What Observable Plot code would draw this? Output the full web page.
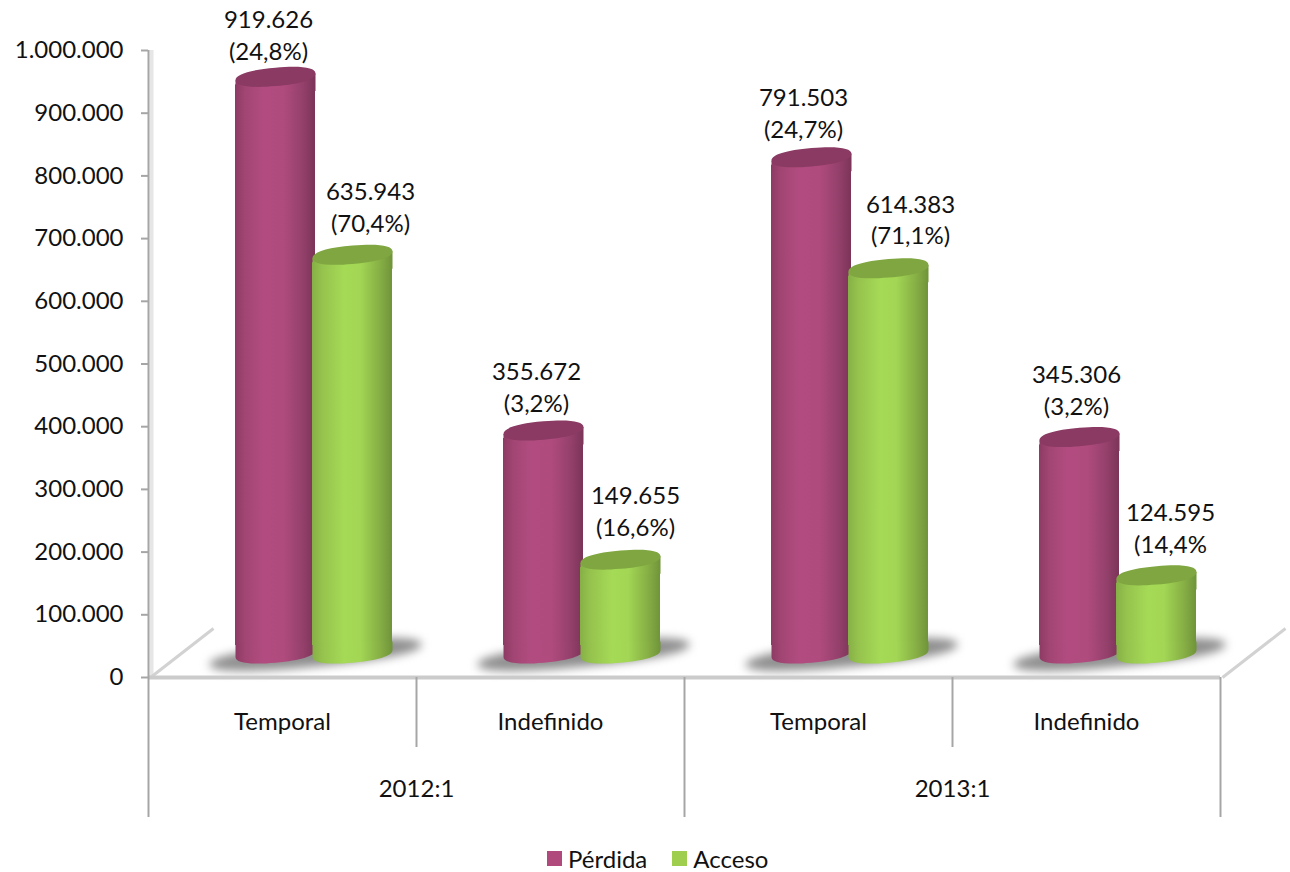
<!DOCTYPE html>
<html lang="es">
<head>
<meta charset="utf-8">
<script src="https://cdn.jsdelivr.net/npm/d3@7"></script>
<script src="https://cdn.jsdelivr.net/npm/@observablehq/plot@0.6"></script>
<style>
  html, body { margin: 0; padding: 0; background: #fff; overflow: hidden; }
  #legend { display: flex; justify-content: flex-start; align-items: center; height: 27px;
            font: 24px Lato, sans-serif; color: #111; padding-left: 547px; }
  #legend span.sw { width: 15px; height: 15px; display: inline-block; margin-right: 6px; }
  #legend span.lb { margin-right: 25px; }
  #legend span.lb:last-child { margin-right: 0; }
</style>
</head>
<body>
<div id="chart"></div>
<div id="legend"></div>
<script>
const periods = ["2012:1", "2012:1", "2013:1", "2013:1"];
const contracts = ["Temporal", "Indefinido", "Temporal", "Indefinido"];
const perdida = [919626, 355672, 791503, 345306];
const acceso = [635943, 149655, 614383, 124595];
const perdidaShare = ["(24,8%)", "(3,2%)", "(24,7%)", "(3,2%)"];
const accesoShare = ["(70,4%)", "(16,6%)", "(71,1%)", "(14,4%"];
const yTicks = [0, 100000, 200000, 300000, 400000, 500000, 600000, 700000, 800000, 900000, 1000000];
const seriesNames = ["Pérdida", "Acceso"];
const seriesColors = ["#b04a7d", "#9fce4f"];

// Hand placement of the value labels (pixels from the band centre / bar top).
const perdidaNudgeX = [-14, -14, -15, -10];
const perdidaNudgeY = [-67, -69, -69, -72];
const accesoNudgeX = [88, 85, 92, 84];
const accesoNudgeY = [-73, -74, -74, -73];

const es = d3.formatLocale({decimal: ",", thousands: ".", grouping: [3], currency: ["", "€"]});
const fmt = es.format(",d");

const keys = periods.map((p, i) => p + " " + contracts[i]);
const FONT = 24;
const BAND = 268, HALF = BAND / 2, RX = 40, RY = 9.2, SHEAR = 0.085, LIFT = -24;
const DROP = 111643, DROP_LONG = 223286; // category-axis separators, in y units below zero

// Sheared ellipses, drawn as custom Plot symbols
function ellipseSegs(ctx, rx, ry, sh, from) {
  const k = 0.64, P = (x, y) => [x, y - sh * x];
  const segs = [
    [[rx, k * ry], [k * rx, ry], [0, ry]],
    [[-k * rx, ry], [-rx, k * ry], [-rx, 0]],
    [[-rx, -k * ry], [-k * rx, -ry], [0, -ry]],
    [[k * rx, -ry], [rx, -k * ry], [rx, 0]]
  ];
  for (let i = from[0]; i < from[1]; ++i) {
    const [a, b, c] = segs[i].map(p => P(p[0], p[1]));
    ctx.bezierCurveTo(a[0], a[1], b[0], b[1], c[0], c[1]);
  }
}
const ellipseSymbol = (rx, ry, sh) => ({
  draw(ctx) {
    ctx.moveTo(rx, -sh * rx);
    ellipseSegs(ctx, rx, ry, sh, [0, 4]);
    ctx.closePath();
  }
});
const bottomSymbol = {
  draw(ctx) {
    ctx.moveTo(-RX, -12);
    ctx.lineTo(RX, -12);
    ctx.lineTo(RX, -SHEAR * RX);
    ellipseSegs(ctx, RX, RY, SHEAR, [0, 2]);
    ctx.closePath();
  }
};
const sleeveSymbol = {
  draw(ctx) {
    ctx.moveTo(-RX, SHEAR * RX);
    ctx.lineTo(RX, -SHEAR * RX);
    ctx.lineTo(RX, 14);
    ctx.lineTo(-RX, 14);
    ctx.closePath();
  }
};
const slantSymbol = {
  draw(ctx) {
    ctx.moveTo(0, 0);
    ctx.lineTo(63, -49);
  }
};

const defs = () => {
  const d = d3.create("svg:defs");
  const grad = (id, stops) => {
    const g = d.append("linearGradient").attr("id", id);
    stops.forEach(([o, c]) => g.append("stop").attr("offset", o).attr("stop-color", c));
  };
  grad("gP", [[0, "#8c3b64"], [0.12, "#a14573"], [0.35, "#b24c80"], [0.6, "#b04b7e"], [0.85, "#93406b"], [1, "#7b3458"]]);
  grad("gA", [[0, "#86b046"], [0.12, "#95c24d"], [0.4, "#a5da56"], [0.6, "#a2d654"], [0.85, "#86ae45"], [1, "#6f9439"]]);
  return d.node();
};

function cylinder(values, dx, gradId, capColor) {
  const rows = keys.map((k, i) => ({key: k, value: values[i]}));
  const left = HALF + dx - RX, right = HALF - dx - RX;
  return [
    Plot.barY(rows, {x: "key", y1: 0, y2: "value", dy: LIFT, insetLeft: left, insetRight: right,
      insetTop: 8, insetBottom: 8, fill: gradId}),
    Plot.dot(rows, {x: "key", y: 0, dx, dy: LIFT, symbol: bottomSymbol, fill: gradId}),
    Plot.dot(rows, {x: "key", y: "value", dx, dy: LIFT, symbol: sleeveSymbol, fill: gradId}),
    Plot.dot(rows, {x: "key", y: "value", dx, dy: LIFT, symbol: ellipseSymbol(RX, RY, SHEAR), fill: capColor})
  ];
}

function valueLabels(values, shares, nudgeX, nudgeY) {
  return keys.map((k, i) => Plot.text([{key: k, value: values[i], label: fmt(values[i]) + "\n" + shares[i]}], {
    x: "key", y: "value", text: "label", dx: nudgeX[i], dy: nudgeY[i],
    fontSize: FONT, lineHeight: 1.33, fill: "#111"
  }));
}

const yearKeys = keys.filter((k, i) => i % 2 === 1);
const yearLabels = periods.filter((p, i) => i % 2 === 1);
const yearRows = yearKeys.map((k, i) => ({key: k, label: yearLabels[i]}));
const contractRows = keys.map((k, i) => ({key: k, label: contracts[i]}));

const AXIS = "#a6a6a6";
const chart = Plot.plot({
  width: 1290,
  height: 845,
  marginTop: 50,
  marginBottom: 168,
  marginLeft: 148,
  marginRight: 70,
  style: {fontFamily: "Lato, sans-serif", background: "#fff"},
  x: {type: "band", domain: keys, padding: 0, axis: null},
  y: {domain: [0, 1000000], axis: null},
  marks: [
    defs,
    // wall and floor
    Plot.ruleX([keys[0]], {x: d => d, dx: -HALF + 3, y1: 0, y2: 1000000, stroke: "#e6e6e6", strokeWidth: 4}),
    Plot.dot([keys[0]], {x: d => d, y: 0, dx: -HALF + 2, symbol: slantSymbol, stroke: "#d2d2d2", strokeWidth: 3, fill: "none"}),
    Plot.dot([keys[3]], {x: d => d, y: 0, dx: HALF + 2, symbol: slantSymbol, stroke: "#d2d2d2", strokeWidth: 3, fill: "none"}),
    // shadows
    Plot.dot(keys, {x: d => d, y: 0, dx: 33, dy: -23, symbol: ellipseSymbol(106, 12, 0.095), fill: "#8f8f8f", imageFilter: "blur(5px)"}),
    // cylinders
    ...cylinder(perdida, -7, "url(#gP)", "#8a3a63"),
    ...cylinder(acceso, 70, "url(#gA)", "#7fa640"),
    // floor edge
    Plot.ruleY([0], {stroke: "#cbcbcb", strokeWidth: 4}),
    // category axis separators
    Plot.ruleX([keys[1], keys[3]], {x: d => d, dx: -HALF, y1: 0, y2: -DROP, stroke: AXIS, strokeWidth: 2}),
    Plot.ruleX([keys[0], keys[2]], {x: d => d, dx: -HALF, y1: 0, y2: -DROP_LONG, stroke: AXIS, strokeWidth: 2}),
    Plot.ruleX([keys[3]], {x: d => d, dx: HALF, y1: 0, y2: -DROP_LONG, stroke: AXIS, strokeWidth: 2}),
    Plot.text(contractRows, {x: "key", y: 0, dy: 45, text: "label", fontSize: FONT, fill: "#111"}),
    Plot.text(yearRows, {x: "key", y: 0, dy: 112, dx: -HALF, text: "label", fontSize: FONT, fill: "#111"}),
    // value axis
    Plot.axisY({ticks: yTicks, tickSize: 7, tickPadding: 18, tickFormat: fmt, stroke: AXIS, strokeWidth: 2, fill: "#111", fontSize: FONT, label: null}),
    Plot.ruleX([keys[0]], {x: d => d, dx: -HALF, y1: 0, y2: 1000000, stroke: AXIS, strokeWidth: 2}),
    // value labels
    ...valueLabels(perdida, perdidaShare, perdidaNudgeX, perdidaNudgeY),
    ...valueLabels(acceso, accesoShare, accesoNudgeX, accesoNudgeY)
  ]
});
document.getElementById("chart").appendChild(chart);

const legend = d3.select("#legend");
seriesNames.forEach((name, i) => {
  legend.append("span").attr("class", "sw").style("background", seriesColors[i]);
  legend.append("span").attr("class", "lb").text(name);
});
</script>
</body>
</html>
